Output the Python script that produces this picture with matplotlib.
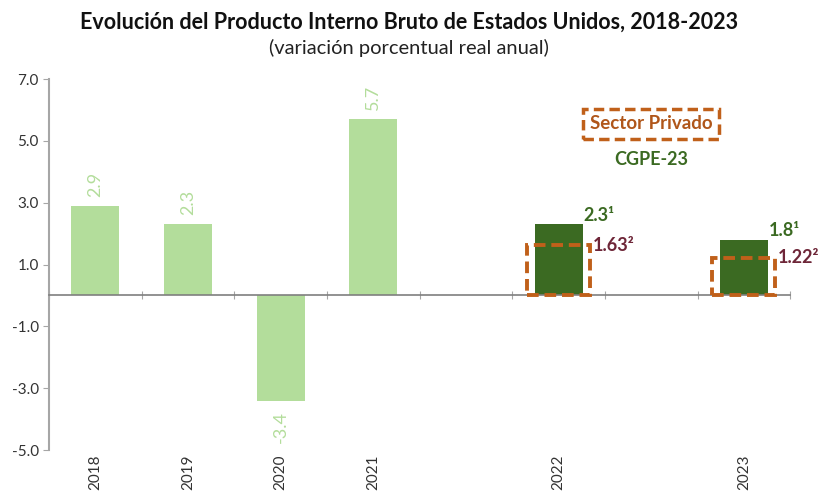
import numpy as np
import matplotlib.pyplot as plt

plt.rcParams['font.family'] = ['Lato', 'DejaVu Sans']

# data
years = ['2018', '2019', '2020', '2021', '', '2022', '', '2023']
observed = [2.9, 2.3, -3.4, 5.7, None, None, None, None]
cgpe = [None, None, None, None, None, 2.3, None, 1.8]
privado = [None, None, None, None, None, 1.63, None, 1.22]
cgpe_labels = ['', '', '', '', '', '2.3¹', '', '1.8¹']
privado_labels = ['', '', '', '', '', '1.63²', '', '1.22²']

light_green = '#b3dd9b'
dark_green = '#3b6a22'
brown = '#c0601a'
maroon = '#6e2638'

fig = plt.figure(figsize=[8.18, 4.91], dpi=100)
ax = fig.add_axes([0.06, 0.0835, 0.906, 0.7555])

x = np.arange(len(years))

def pick(vals):
    idx = [i for i, v in enumerate(vals) if v is not None]
    return x[idx], np.array([vals[i] for i in idx]), idx

xo, yo, io = pick(observed)
ax.bar(xo, yo, width=0.52, color=light_green, zorder=2)
for xi, yi in zip(xo, yo):
    if yi >= 0:
        ax.text(xi, yi + 0.3, '%.1f' % yi, rotation=90, ha='center', va='bottom',
                color=light_green, fontsize=13)
    else:
        ax.text(xi, yi - 0.35, '%.1f' % yi, rotation=90, ha='center', va='top',
                color=light_green, fontsize=13)

xc, yc, ic = pick(cgpe)
ax.bar(xc, yc, width=0.52, color=dark_green, zorder=2)
for xi, yi, i in zip(xc, yc, ic):
    ax.text(xi + 0.27, yi + 0.02, cgpe_labels[i], ha='left', va='bottom',
            color=dark_green, fontsize=13, fontweight='bold')

xp, yp, ip = pick(privado)
ax.bar(xp, yp, width=0.68, fill=False, edgecolor=brown, linestyle=(0, (3, 1.5)),
       linewidth=2.8, zorder=3)
for xi, yi, i in zip(xp, yp, ip):
    ax.text(xi + 0.37, yi, privado_labels[i], ha='left', va='center',
            color=maroon, fontsize=13, fontweight='bold')

# legend-like annotation
ax.text(6.0, 5.55, 'Sector Privado', ha='center', va='center', color='#b0561a',
        fontsize=13.5, fontweight='bold',
        bbox=dict(boxstyle='square,pad=0.35', fc='none', ec=brown, ls=(0, (3, 1.5)), lw=2.5))
ax.text(6.0, 4.4, 'CGPE-23', ha='center', va='center', color=dark_green,
        fontsize=13, fontweight='bold')

# axes styling
ax.set_xlim(-0.5, len(years) - 0.5)
ax.set_ylim(-5, 7)
ax.set_yticks(np.arange(-5, 8, 2))
ax.set_yticklabels(['%.1f' % v for v in np.arange(-5, 8, 2)], fontsize=11, color='#333333')
ax.spines['right'].set_color('none')
ax.spines['top'].set_color('none')
ax.spines['left'].set_color('#a6a6a6')
ax.spines['left'].set_linewidth(1.5)
ax.spines['bottom'].set_position(('data', 0))
ax.spines['bottom'].set_color('#7f7f7f')
ax.spines['bottom'].set_linewidth(1.2)
ax.set_xticks(np.arange(-0.5, len(years), 1.0))
ax.set_xticklabels([])
ax.tick_params(axis='x', direction='inout', length=6, color='#a6a6a6')
ax.tick_params(axis='y', length=4, color='#a6a6a6')

for xi, lab in zip(x, years):
    if lab:
        ax.text(xi, -5.15, lab, rotation=90, ha='center', va='top',
                fontsize=11, color='#333333', clip_on=False)

fig.text(0.5, 0.955, 'Evolución del Producto Interno Bruto de Estados Unidos, 2018-2023',
         ha='center', va='center', fontsize=15.5, fontweight='bold', color='#111111')
fig.text(0.5, 0.903, '(variación porcentual real anual)', ha='center', va='center',
         fontsize=14.5, color='#222222')

fig.savefig('out.png', dpi=100)
